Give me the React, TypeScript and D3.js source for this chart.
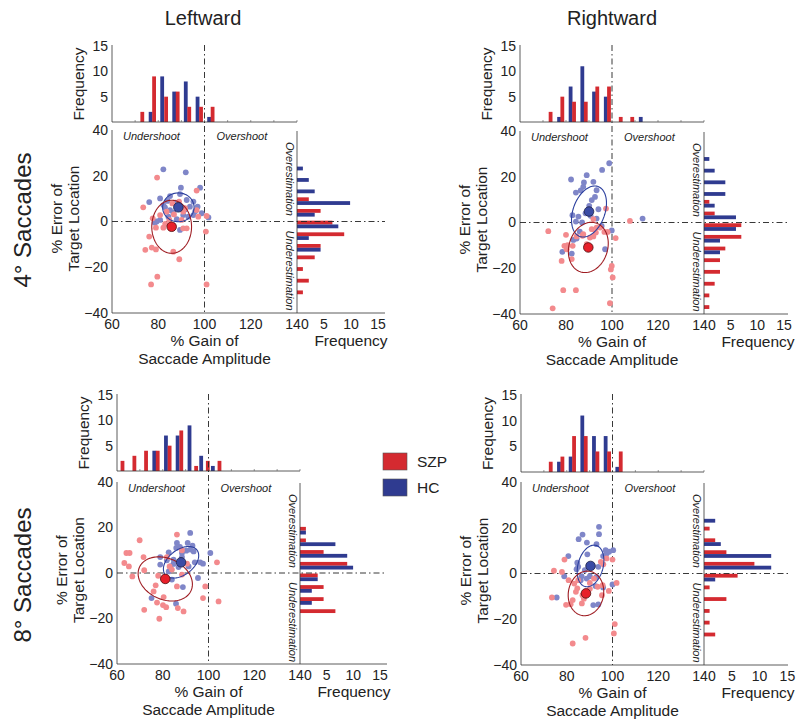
import React from "react";
import * as d3 from "d3";

const RED = "#d42a30";
const BLUE = "#2f3b90";
const RED_PT = "#f38a8d";
const BLUE_PT = "#7f86c8";
const FONT = "Liberation Sans, Arial, Helvetica, sans-serif";

type P = [number, number];

// ---------- scatter data (gain %, error %) ----------
const tlHC: P[] = [[82.2,22.8],[91.9,21.5],[76.1,8.5],[89.8,14.8],[98.1,14.8],[80.8,10.1],[85.1,11.1],[89.4,12.0],[92.3,9.4],[95.2,8.7],[93.7,6.5],[97.0,6.5],[98.8,3.6],[101.7,1.8],[80.8,0.7],[79.3,0],[82.9,6.2],[85.1,5.0],[90.8,2.8],[93.0,2.1],[95.2,2.8],[89.4,-3.7],[84.4,2.1],[86.5,3.9],[91.6,5.3],[82.2,7.2],[87.5,8.2],[78.5,-0.5],[96.0,4.5],[88,1],[84,9]];
const tlSZP: P[] = [[79.5,19.2],[73.5,6.2],[77.6,1.4],[79.0,-2.7],[76.1,-6.6],[74.4,-12.4],[77.2,-11.4],[79.0,-12.2],[79.6,-24.1],[76.9,-27.5],[82.2,-2.7],[84.8,0.7],[83.6,4.3],[86.8,3.1],[90.8,4.3],[90.1,0.7],[90.8,-3.0],[92.3,-3.0],[86.5,-13.2],[89.1,-16.5],[96.6,13.5],[96.6,5.0],[97.3,2.1],[100.9,2.4],[100.6,-4.4],[100.9,-27.5],[86.1,7.9],[89,8.7],[80.8,2.8],[91.6,5.8],[83,-1]];
const trHC: P[] = [[98.8,25.9],[95.7,23.0],[89,20.7],[82.2,18.8],[87.8,17.5],[91.9,17.8],[87.5,15.6],[86.4,14.0],[93.3,14.1],[84.3,13.1],[92.6,11.2],[91.2,9.8],[90.1,7.3],[94.1,5.8],[82.8,3.2],[85.4,2.6],[84.3,0.4],[90.7,2.9],[84.6,-7.0],[83.2,-7.6],[113.3,1.7],[99.9,-3.5],[97,-11.7],[82.5,-13.6],[78.4,-12.8],[95.5,-1.5],[93.3,1.7],[87,0],[88.5,4],[86,-4]];
const trSZP: P[] = [[72.3,-3.8],[80,-5.4],[78.1,-16.8],[79.3,-10.2],[80.3,-11.7],[80.7,-9.9],[82.9,-10.2],[84.6,-6.1],[87.2,-5.8],[90.4,-6.6],[91.2,-2.9],[91.9,1.5],[93.3,-2.2],[94.8,-2.2],[97.4,6.1],[96.7,-4.1],[98.1,-4.1],[101.6,-6.8],[107.8,0.7],[99.9,-19],[100.3,-24],[99.1,-35.3],[78.8,-29.6],[84.3,-29.6],[74.2,-37.5],[82.5,-16],[91.9,-6.1],[89,-9.5],[93,-4.4],[87.5,-5.1],[99.5,-20.5]];
const blHC: P[] = [[92,17.6],[86.2,13.2],[90.9,13.2],[85.9,11.0],[92,10.3],[93.5,9.5],[88.4,8.8],[82.6,9.1],[78.9,7.0],[84.7,5.9],[88.4,7.0],[94,4.7],[96.4,4.7],[97.6,4.1],[100.8,8.8],[83.3,2.9],[82.6,0.7],[84,-2.9],[88.8,-6.2],[95.4,-2.2],[75.1,-11],[85.8,-13.5],[78.9,3.7],[90.3,9.8],[81.8,5.6],[84.7,4],[86.9,2.6],[91.3,2.9],[87.5,11.5],[93,12]];
const blSZP: P[] = [[64.1,8.8],[65.5,8.8],[63.2,4.4],[65.2,2.9],[66.7,-1.5],[69.9,14.4],[71.6,7.0],[71.9,1.2],[71.9,-16.2],[76,-8.1],[76.9,-5.4],[78,-1.2],[78.5,-20.1],[80.4,-10.6],[80.1,-14.1],[81.5,-15],[86.2,16.9],[86.2,-5.9],[88.4,10],[86.6,-15.4],[89.1,-16.9],[90.6,4.1],[98.6,-5.9],[97.6,-11],[103.7,4.7],[104.4,-12.5],[83,2.9],[84,1.5],[81.8,7],[88.4,-0.7],[77.5,-13]];
const brHC: P[] = [[94.1,20.4],[86.9,17],[94.1,17.2],[85.2,15],[88.8,13.5],[93,12.8],[97,10.2],[100.3,10.2],[97.4,8.7],[95.9,7.6],[80.7,7.6],[89,8.4],[84.6,4.7],[84.3,1.9],[78.9,-1.2],[86.5,-1.2],[90.1,-1.2],[93,-1.5],[92.6,-5.5],[95.9,-6.1],[91.6,-13.8],[93.8,-13.5],[75.6,-10.5],[100,-4.8],[86.1,-2.9],[87.9,1.5],[93.8,2.9],[88.7,-2.2],[98.5,9.5],[85,3]];
const brSZP: P[] = [[74.4,1.2],[73.5,-10.5],[77.9,0.7],[79,6.1],[79.7,-13.7],[81.7,-13.4],[82.6,-11.6],[83.3,-4.4],[85,-2.9],[84.6,-6.5],[86.9,-9.5],[86.6,-13.1],[90.1,-4.1],[91.9,-2.2],[93.5,-5.8],[95.4,-9.5],[95.7,-5.1],[94.9,5.1],[97.4,6.6],[100,6.1],[98.4,-7.6],[101,-22.1],[100.6,-26.2],[88.2,-28.1],[82.6,-30.6],[101.8,-4.1],[90.1,-6.7],[80.8,-2.9],[87.5,-11],[84,-8],[96,4]];

// group means
const tlMeans: P[] = [[88.7, 6.2], [85.8, -2.3]];
const trMeans: P[] = [[90.0, 4.8], [89.7, -10.9]];
const blMeans: P[] = [[88.0, 4.7], [81.1, -2.6]];
const brMeans: P[] = [[90.4, 3.3], [88.4, -8.7]];

// ellipses [semi-axis a, semi-axis b, angle deg] for HC, SZP
const tlEll = [[6.8, 6.3, 0], [11.6, 8.6, 90]];
const trEll = [[11.6, 6.9, 70], [11.2, 8.4, 73]];
const blEll = [[8.8, 5.5, 38], [12.4, 9.0, -25]];
const brEll = [[9.3, 5.5, 75], [9.8, 7.7, 80]];

// ---------- top histograms (gain bins) ----------
const tlTopHCx = [76.7, 81.7, 86.9, 91.9, 97.0, 102.0];
const tlTopHCn = [2, 9, 6, 8, 5, 1];
const tlTopSZPx = [73.1, 78.2, 83.4, 88.4, 93.4, 98.5, 103.5];
const tlTopSZPn = [2, 9, 5, 6, 3, 3, 3];
const trTopHCx = [77.0, 82.0, 87.1, 92.2, 97.3, 112.5];
const trTopHCn = [1, 7, 11, 6, 5, 1];
const trTopSZPx = [73.3, 78.4, 83.5, 88.6, 93.6, 98.7, 103.8, 108.8];
const trTopSZPn = [2, 5, 4, 4, 7, 7, 1, 1];
const blTopHCx = [76.3, 81.4, 86.5, 91.7, 96.8, 101.9];
const blTopHCn = [4, 7, 7, 9, 3, 1];
const blTopSZPx = [62.4, 67.6, 72.7, 77.8, 83.0, 88.1, 94.6, 99.7, 104.8];
const blTopSZPn = [2, 3, 4, 4, 5, 8, 1, 2, 2];
const brTopHCx = [76.6, 81.7, 86.8, 91.9, 97.0, 102.1];
const brTopHCn = [2, 3, 11, 7, 7, 1];
const brTopSZPx = [73.0, 78.1, 83.2, 88.3, 93.4, 98.5, 103.6];
const brTopSZPn = [2, 3, 7, 7, 4, 4, 4];

// ---------- right histograms (error bins) ----------
const tlRightBins = [24, 19, 14, 8.9, 3.8, -1.3, -6.4, -11.5, -16.5, -21.6, -26.7, -31.8];
const tlRightHC = [1, 2, 3, 9, 3, 7, 2, 4, 0, 0, 0, 0];
const tlRightSZP = [0, 0, 0, 2, 4, 6, 8, 4, 3, 1, 2, 1];
const trRightBins = [28.6, 23.5, 18.4, 13.3, 8.2, 3.1, -2.0, -7.1, -12.2, -17.3, -22.4, -27.6, -32.7, -37.8];
const trRightHC = [1, 2, 4, 4, 2, 6, 6, 3, 3, 0, 0, 0, 0, 0];
const trRightSZP = [0, 0, 0, 0, 1, 2, 7, 7, 4, 3, 3, 2, 1, 1];
const blRightBins = [18.6, 13.5, 8.4, 3.2, -1.9, -7.0, -12.3, -17.6];
const blRightHC = [1, 6, 8, 9, 3, 2, 2, 0];
const blRightSZP = [1, 1, 4, 8, 3, 4, 4, 6];
const brRightBins = [23.9, 18.8, 13.7, 8.5, 3.4, -1.8, -6.9, -12.0, -17.2, -22.3, -27.5];
const brRightHC = [2, 0, 3, 12, 12, 2, 0, 0, 0, 0, 0];
const brRightSZP = [0, 1, 2, 4, 9, 6, 1, 4, 1, 1, 2];

const gainTicks = [60, 80, 100, 120, 140];
const errTicks = [40, 20, 0, -20, -40];
const freqTicks = [5, 10, 15];
const rowLabels = ["4° Saccades", "8° Saccades"];
const colLabels = ["Leftward", "Rightward"];
const legendItems = ["SZP", "HC"];

type Layout = {
  sx0: number; sx1: number; sy0: number; sy1: number;
  hBase: number; hTop: number; rhTick: number; rhBar: number; rhEnd: number;
};

const layouts: Layout[] = [
  { sx0: 112, sx1: 297, sy0: 130, sy1: 313, hBase: 122, hTop: 46, rhTick: 5.4, rhBar: 5.9, rhEnd: 385 },
  { sx0: 520, sx1: 704, sy0: 131, sy1: 314, hBase: 122, hTop: 46, rhTick: 5.33, rhBar: 5.33, rhEnd: 788 },
  { sx0: 117, sx1: 300, sy0: 482, sy1: 664, hBase: 471, hTop: 395, rhTick: 5.33, rhBar: 5.9, rhEnd: 387 },
  { sx0: 521, sx1: 704, sy0: 482, sy1: 665, hBase: 472, hTop: 395, rhTick: 5.56, rhBar: 5.6, rhEnd: 788 },
];

const DASH = "6,3,1.5,3";
const TICK_FS = 14;
const LABEL_FS = 15.5;

function Panel({ L, hc, szp, means, ells, topHC, topSZP, rBins, rHC, rSZP }: any) {
  const xs = d3.scaleLinear().domain([60, 140]).range([L.sx0, L.sx1]);
  const ys = d3.scaleLinear().domain([-40, 40]).range([L.sy1, L.sy0]);
  const hy = d3.scaleLinear().domain([0, 15]).range([L.hBase, L.hTop]);
  const rTick = d3.scaleLinear().domain([0, 15]).range([L.sx1, L.sx1 + 15 * L.rhTick]);
  const rBar = d3.scaleLinear().domain([0, 10]).range([L.sx1, L.sx1 + 10 * L.rhBar]);
  const bw = 3.8;
  const line = d3.line<P>().x((p) => xs(p[0])).y((p) => ys(p[1])).curve(d3.curveLinearClosed);
  const ellPath = (m: P, e: number[]) => {
    const [a, b, ang] = e;
    const t = (ang * Math.PI) / 180;
    const pts: P[] = d3.range(0, 120).map((i) => {
      const th = (i / 120) * 2 * Math.PI;
      const dx = a * Math.cos(th), dy = b * Math.sin(th);
      return [m[0] + dx * Math.cos(t) - dy * Math.sin(t), m[1] + dx * Math.sin(t) + dy * Math.cos(t)];
    });
    return line(pts) || "";
  };
  const midY = (L.sy0 + L.sy1) / 2;
  const midX = (L.sx0 + L.sx1) / 2;
  return (
    <g>
      {/* top histogram */}
      {topHC.x.map((v: number, i: number) =>
        topHC.n[i] > 0 ? (
          <rect key={"th" + i} x={xs(v) - bw / 2} y={hy(topHC.n[i])} width={bw} height={L.hBase - hy(topHC.n[i])} fill={BLUE} />
        ) : null
      )}
      {topSZP.x.map((v: number, i: number) =>
        topSZP.n[i] > 0 ? (
          <rect key={"ts" + i} x={xs(v) - bw / 2} y={hy(topSZP.n[i])} width={bw} height={L.hBase - hy(topSZP.n[i])} fill={RED} />
        ) : null
      )}
      <line x1={L.sx0} x2={L.sx1} y1={L.hBase} y2={L.hBase} stroke="#333" strokeWidth={0.8} />
      <line x1={L.sx0} x2={L.sx0} y1={L.hTop - 1} y2={L.hBase} stroke="#333" strokeWidth={0.8} />
      {d3.range(70, 141, 10).map((t) => (
        <line key={"xt" + t} x1={xs(t)} x2={xs(t)} y1={L.hBase} y2={L.hBase - 2} stroke="#555" strokeWidth={0.6} />
      ))}
      {freqTicks.map((t) => (
        <text key={"hyt" + t} x={L.sx0 - 4} y={hy(t)} dy="0.35em" textAnchor="end" fontSize={TICK_FS} fill="#222">{t}</text>
      ))}
      <text transform={`translate(${L.sx0 - 28},${(L.hBase + L.hTop) / 2}) rotate(-90)`} textAnchor="middle" fontSize={LABEL_FS} fill="#222">Frequency</text>

      {/* right histogram */}
      {rBins.map((c: number, i: number) => (
        <g key={"rb" + i}>
          {rSZP[i] > 0 && <rect x={L.sx1} y={ys(c) - bw} width={rBar(rSZP[i]) - L.sx1} height={bw} fill={RED} />}
          {rHC[i] > 0 && <rect x={L.sx1} y={ys(c)} width={rBar(rHC[i]) - L.sx1} height={bw} fill={BLUE} />}
        </g>
      ))}
      <line x1={L.sx1} x2={L.sx1} y1={L.sy0 + 1} y2={L.sy1} stroke="#333" strokeWidth={0.8} />
      <line x1={L.sx0} x2={L.rhEnd} y1={L.sy1} y2={L.sy1} stroke="#333" strokeWidth={0.8} />
      <line x1={L.sx0} x2={L.sx0} y1={L.sy0} y2={L.sy1} stroke="#333" strokeWidth={0.8} />
      {freqTicks.map((t) => (
        <text key={"rxt" + t} x={rTick(t)} y={L.sy1 + 16} textAnchor="middle" fontSize={TICK_FS} fill="#222">{t}</text>
      ))}
      <text x={L.sx1 + 54} y={L.sy1 + 33} textAnchor="middle" fontSize={LABEL_FS} fill="#222">Frequency</text>

      {/* reference lines */}
      <line x1={xs(100)} x2={xs(100)} y1={L.hTop - 1} y2={L.sy1} stroke="#222" strokeWidth={0.9} strokeDasharray={DASH} />
      <line x1={L.sx0} x2={L.rhEnd} y1={ys(0)} y2={ys(0)} stroke="#222" strokeWidth={0.9} strokeDasharray={DASH} />

      {/* scatter */}
      {hc.map((p: P, i: number) => (
        <circle key={"hc" + i} cx={xs(p[0])} cy={ys(p[1])} r={2.9} fill={BLUE_PT} />
      ))}
      {szp.map((p: P, i: number) => (
        <circle key={"sz" + i} cx={xs(p[0])} cy={ys(p[1])} r={2.9} fill={RED_PT} />
      ))}
      <path d={ellPath(means[0], ells[0])} fill="none" stroke="#2b3f9e" strokeWidth={1.1} />
      <path d={ellPath(means[1], ells[1])} fill="none" stroke="#9e1c22" strokeWidth={1.1} />
      <circle cx={xs(means[0][0])} cy={ys(means[0][1])} r={4.8} fill="#3a4ba5" stroke="#1a1e45" strokeWidth={0.8} />
      <circle cx={xs(means[1][0])} cy={ys(means[1][1])} r={4.8} fill="#e8202a" stroke="#4a0c0e" strokeWidth={0.8} />

      {/* scatter axes labels */}
      {gainTicks.map((t) => (
        <text key={"gx" + t} x={xs(t)} y={L.sy1 + 16} textAnchor="middle" fontSize={TICK_FS} fill="#222">{t}</text>
      ))}
      {errTicks.map((t) => (
        <text key={"ey" + t} x={L.sx0 - 4} y={ys(t)} dy="0.35em" textAnchor="end" fontSize={TICK_FS} fill="#222">{t < 0 ? "\u2212" + Math.abs(t) : t}</text>
      ))}
      <text x={midX} y={L.sy1 + 33} textAnchor="middle" fontSize={LABEL_FS} fill="#222">% Gain of</text>
      <text x={midX} y={L.sy1 + 51} textAnchor="middle" fontSize={LABEL_FS} fill="#222">Saccade Amplitude</text>
      <text transform={`translate(${L.sx0 - 50},${midY - 3}) rotate(-90)`} textAnchor="middle" fontSize={LABEL_FS} fill="#222">% Error of</text>
      <text transform={`translate(${L.sx0 - 33},${midY - 3}) rotate(-90)`} textAnchor="middle" fontSize={LABEL_FS} fill="#222">Target Location</text>

      <text x={L.sx0 + 11} y={L.sy0 + 10} fontSize={11} fontStyle="italic" fill="#222">Undershoot</text>
      <text x={xs(100) + 12} y={L.sy0 + 10} fontSize={11} fontStyle="italic" fill="#222">Overshoot</text>
      <text transform={`translate(${L.sx1 - 11},${L.sy0 + 12}) rotate(90)`} fontSize={11} fontStyle="italic" fill="#222">Overestimation</text>
      <text transform={`translate(${L.sx1 - 11},${ys(0) + 9}) rotate(90)`} fontSize={11} fontStyle="italic" fill="#222">Underestimation</text>
    </g>
  );
}

export default function App() {
  const data = [
    { hc: tlHC, szp: tlSZP, means: tlMeans, ells: tlEll, topHC: { x: tlTopHCx, n: tlTopHCn }, topSZP: { x: tlTopSZPx, n: tlTopSZPn }, rBins: tlRightBins, rHC: tlRightHC, rSZP: tlRightSZP },
    { hc: trHC, szp: trSZP, means: trMeans, ells: trEll, topHC: { x: trTopHCx, n: trTopHCn }, topSZP: { x: trTopSZPx, n: trTopSZPn }, rBins: trRightBins, rHC: trRightHC, rSZP: trRightSZP },
    { hc: blHC, szp: blSZP, means: blMeans, ells: blEll, topHC: { x: blTopHCx, n: blTopHCn }, topSZP: { x: blTopSZPx, n: blTopSZPn }, rBins: blRightBins, rHC: blRightHC, rSZP: blRightSZP },
    { hc: brHC, szp: brSZP, means: brMeans, ells: brEll, topHC: { x: brTopHCx, n: brTopHCn }, topSZP: { x: brTopSZPx, n: brTopSZPn }, rBins: brRightBins, rHC: brRightHC, rSZP: brRightSZP },
  ];
  return (
    <svg width={800} height={723} style={{ position: "absolute", left: 0, top: 0, background: "#fff" }} fontFamily={FONT}>
      <rect width={800} height={723} fill="#fff" />
      <text x={203} y={25} textAnchor="middle" fontSize={20} fill="#222">{colLabels[0]}</text>
      <text x={612} y={25} textAnchor="middle" fontSize={20} fill="#222">{colLabels[1]}</text>
      <text transform={`translate(31,220) rotate(-90)`} textAnchor="middle" fontSize={24} fill="#222">{rowLabels[0]}</text>
      <text transform={`translate(31,575) rotate(-90)`} textAnchor="middle" fontSize={24} fill="#222">{rowLabels[1]}</text>
      {layouts.map((L, i) => (
        <Panel key={i} L={L} {...data[i]} />
      ))}
      {/* legend */}
      <rect x={383} y={453} width={24} height={17} fill={RED} stroke="#555" strokeWidth={0.6} />
      <text x={417} y={467} fontSize={LABEL_FS} fill="#222">{legendItems[0]}</text>
      <rect x={383} y={479} width={24} height={17} fill={BLUE} stroke="#555" strokeWidth={0.6} />
      <text x={417} y={493} fontSize={LABEL_FS} fill="#222">{legendItems[1]}</text>
    </svg>
  );
}
